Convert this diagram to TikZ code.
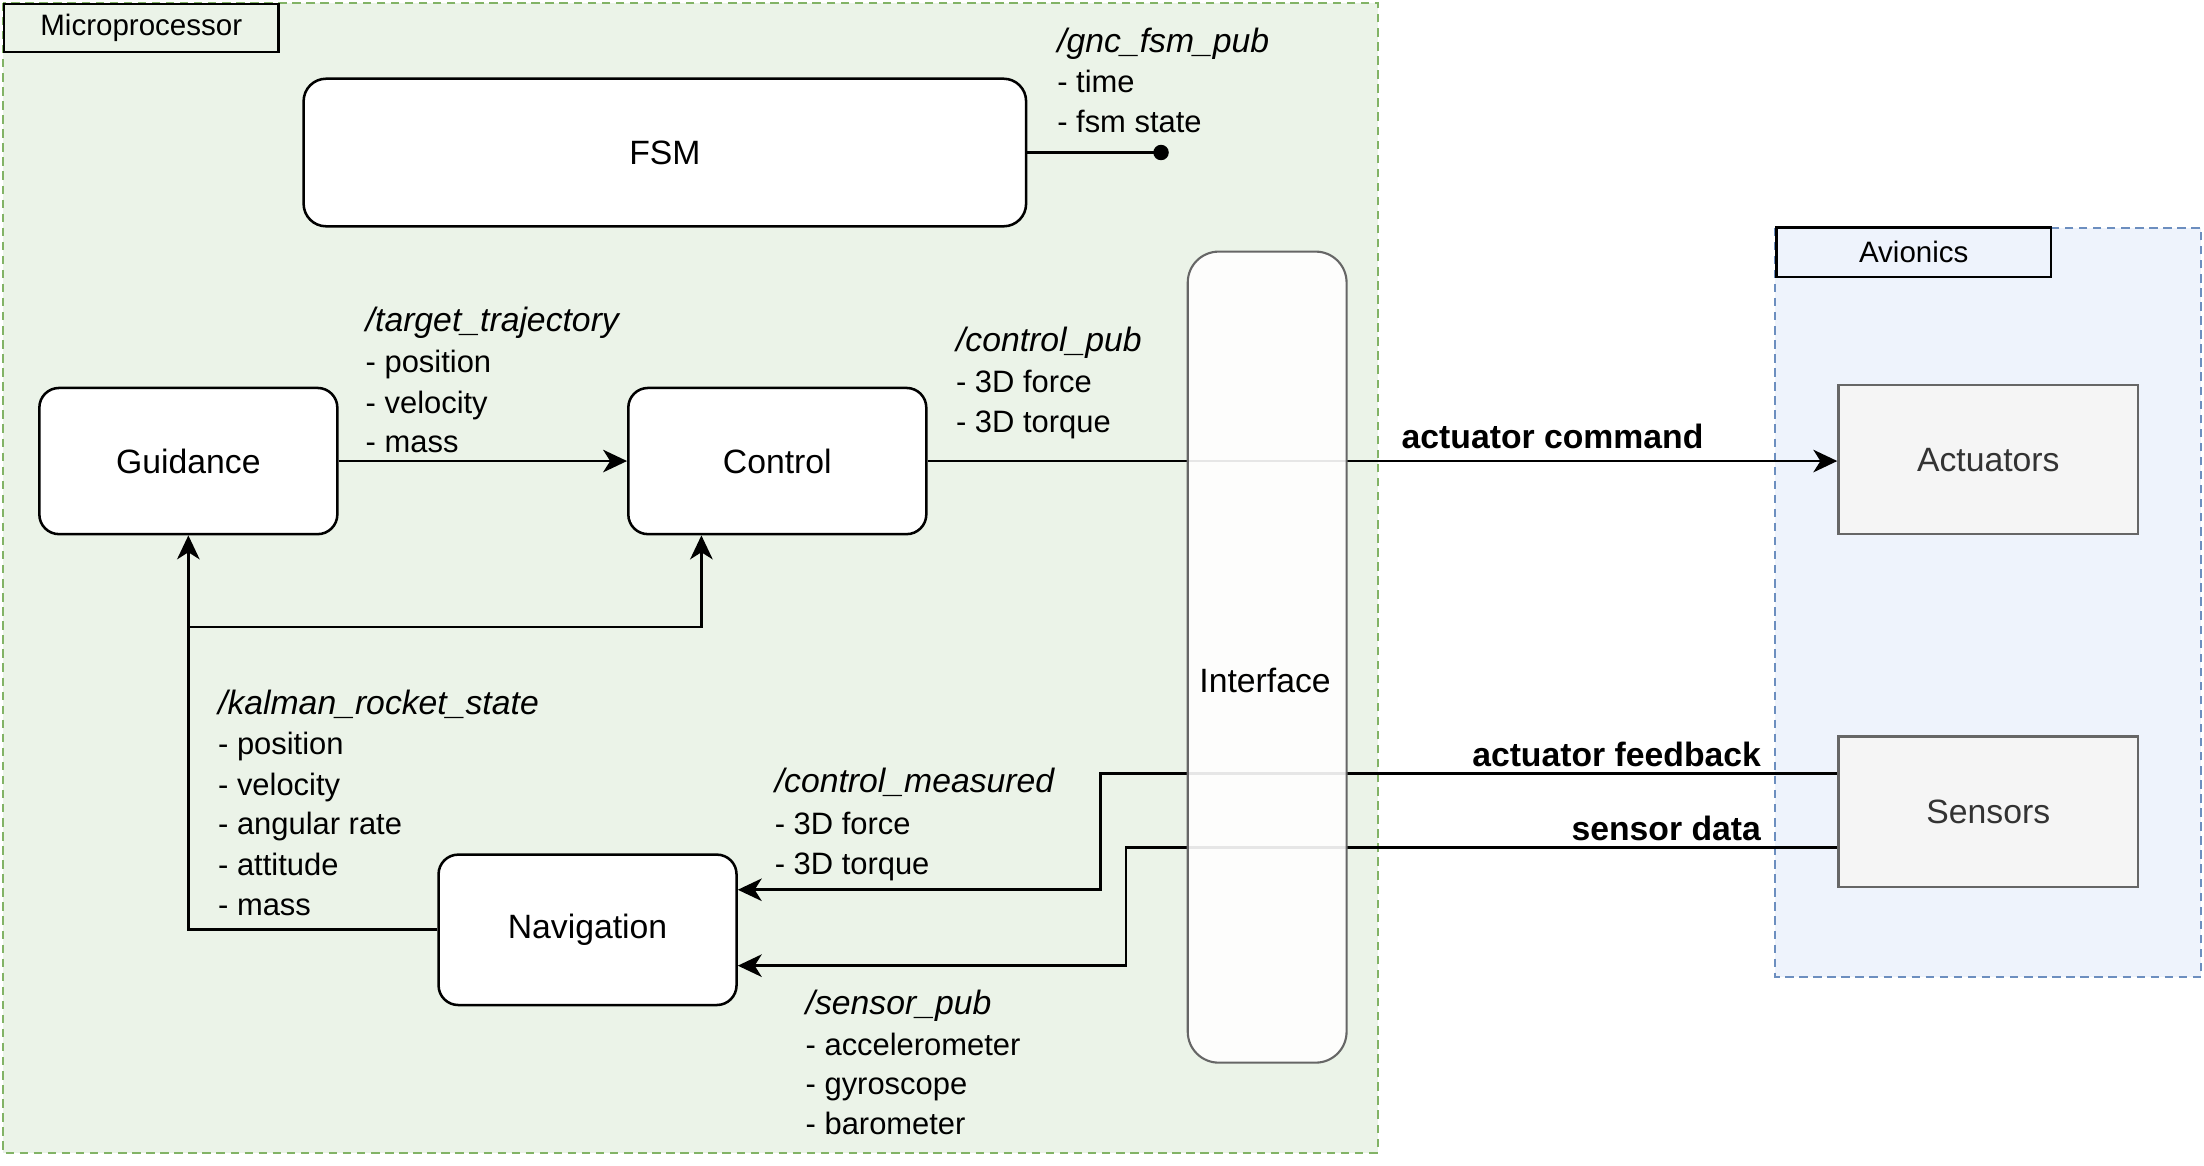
\documentclass[tikz,border=0pt]{standalone}
\usepackage{fontspec}
\setmainfont{Liberation Sans}
\usetikzlibrary{arrows.meta}
\pgfdeclarelayer{bg}
\pgfdeclarelayer{lines}
\pgfsetlayers{bg,lines,main}
\definecolor{mpfill}{RGB}{235,243,232}
\definecolor{mpdraw}{RGB}{130,179,102}
\definecolor{avfill}{RGB}{238,243,252}
\definecolor{avdraw}{RGB}{108,142,191}
\definecolor{hwfill}{RGB}{245,245,245}
\definecolor{hwdraw}{RGB}{102,102,102}
\definecolor{hwtext}{RGB}{51,51,51}
\tikzset{
  swbox/.style={draw, line width=1.8pt, rounded corners=14pt, fill=white, minimum width=212pt, minimum height=104pt, inner sep=0pt, font=\fontsize{24}{29}\selectfont},
  hwbox/.style={draw=hwdraw, line width=1.8pt, fill=hwfill, text=hwtext, minimum width=213pt, minimum height=106pt, inner sep=0pt, font=\fontsize{24}{29}\selectfont},
  tagbox/.style={draw, line width=1.8pt, inner sep=0pt, font=\fontsize{21}{25}\selectfont},
  lbl/.style={anchor=base west, inner sep=0pt, font=\fontsize{22}{26}\selectfont},
  hdr/.style={anchor=base west, inner sep=0pt, font=\fontsize{24}{29}\selectfont\itshape},
  boldlbl/.style={inner sep=0pt, font=\fontsize{24}{29}\selectfont\bfseries},
  conn/.style={line width=2pt},
  arr/.style={conn, -{Stealth[length=17pt,width=16pt,inset=5pt]}},
  container/.style={line width=1.4pt, dash pattern=on 6pt off 4pt},
}
\begin{document}
\begin{tikzpicture}[x=1pt,y=-1pt]
\useasboundingbox (0,0) rectangle (1568,829.5);

% containers
\begin{pgfonlayer}{bg}
\draw[container, draw=mpdraw, fill=mpfill] (2,2) rectangle (980,820);
\draw[container, draw=avdraw, fill=avfill] (1263,162) rectangle (1566,695);
\end{pgfonlayer}

\node[tagbox, fill=mpfill, minimum width=195pt, minimum height=34pt] (mptag) at (100.5,20) {Microprocessor};
\node[tagbox, fill=avfill, minimum width=195pt, minimum height=35pt] (avtag) at (1361.5,179.5) {Avionics};

% software blocks
\node[swbox, minimum width=514pt, minimum height=105pt, rounded corners=16pt] (fsm) at (473,108.5) {FSM};
\node[swbox] (guid) at (134,328) {Guidance};
\node[swbox] (ctrl) at (553,328) {Control};
\node[swbox, minimum height=107pt] (nav) at (418,661.5) {Navigation};
\node[draw=hwdraw, line width=1.5pt, rounded corners=22pt, fill=white, fill opacity=0.9, minimum width=113pt, minimum height=577pt, inner sep=0pt] (intf) at (901.5,467.5) {};
\node[inner sep=0pt, font=\fontsize{24}{29}\selectfont] (intftext) at (900,484) {Interface};

% hardware blocks
\node[hwbox] (act) at (1414.5,327) {Actuators};
\node[hwbox, minimum height=107pt] (sens) at (1414.5,577.5) {Sensors};

% connectors
\coordinate (fsmdot) at (826,108.5);
\coordinate (split) at (134,446);
\begin{pgfonlayer}{lines}
\draw[conn] (fsm.east) -- (fsmdot);
\fill (fsmdot) circle (5.5pt);
\draw[arr] (guid.east) -- (ctrl.west);
\draw[arr] (ctrl.east) -- (ctrl.east -| act.west);
\draw[arr] (nav.west) -| (guid.south);
\draw[arr] (split) -| ([xshift=-54pt]ctrl.south);
\draw[arr] ([yshift=27.5pt]sens.west) -- ++(-524pt,0) |- ([yshift=28.5pt]nav.east);
\draw[arr] ([yshift=-25.5pt]sens.west) -- ++(-506pt,0) |- ([yshift=-25.5pt]nav.east);
\end{pgfonlayer}

% labels
\node[hdr] (gnch) at (752,37) {/gnc\_fsm\_pub};
\node[lbl] (gnc1) at (752,66) {- time};
\node[lbl] (gnc2) at (752,94) {- fsm state};

\node[hdr] (trajh) at (260,236) {/target\_trajectory};
\node[lbl] (traj1) at (260,265) {- position};
\node[lbl] (traj2) at (260,294) {- velocity};
\node[lbl] (traj3) at (260,322) {- mass};

\node[hdr] (cpubh) at (680,250) {/control\_pub};
\node[lbl] (cpub1) at (680,279) {- 3D force};
\node[lbl] (cpub2) at (680,308) {- 3D torque};

\node[hdr] (kalh) at (155,508) {/kalman\_rocket\_state};
\node[lbl] (kal1) at (155,537) {- position};
\node[lbl] (kal2) at (155,566) {- velocity};
\node[lbl] (kal3) at (155,594) {- angular rate};
\node[lbl] (kal4) at (155,623) {- attitude};
\node[lbl] (kal5) at (155,651) {- mass};

\node[hdr] (cmh) at (551,564) {/control\_measured};
\node[lbl] (cm1) at (551,594) {- 3D force};
\node[lbl] (cm2) at (551,622) {- 3D torque};

\node[hdr] (sph) at (573,722) {/sensor\_pub};
\node[lbl] (sp1) at (573,751) {- accelerometer};
\node[lbl] (sp2) at (573,779) {- gyroscope};
\node[lbl] (sp3) at (573,807) {- barometer};

\node[boldlbl, anchor=base west] (acmd) at (997,319) {actuator command};
\node[boldlbl, anchor=base east] (afb) at (1253,545) {actuator feedback};
\node[boldlbl, anchor=base east] (sdat) at (1253,598) {sensor data};
\end{tikzpicture}
\end{document}
